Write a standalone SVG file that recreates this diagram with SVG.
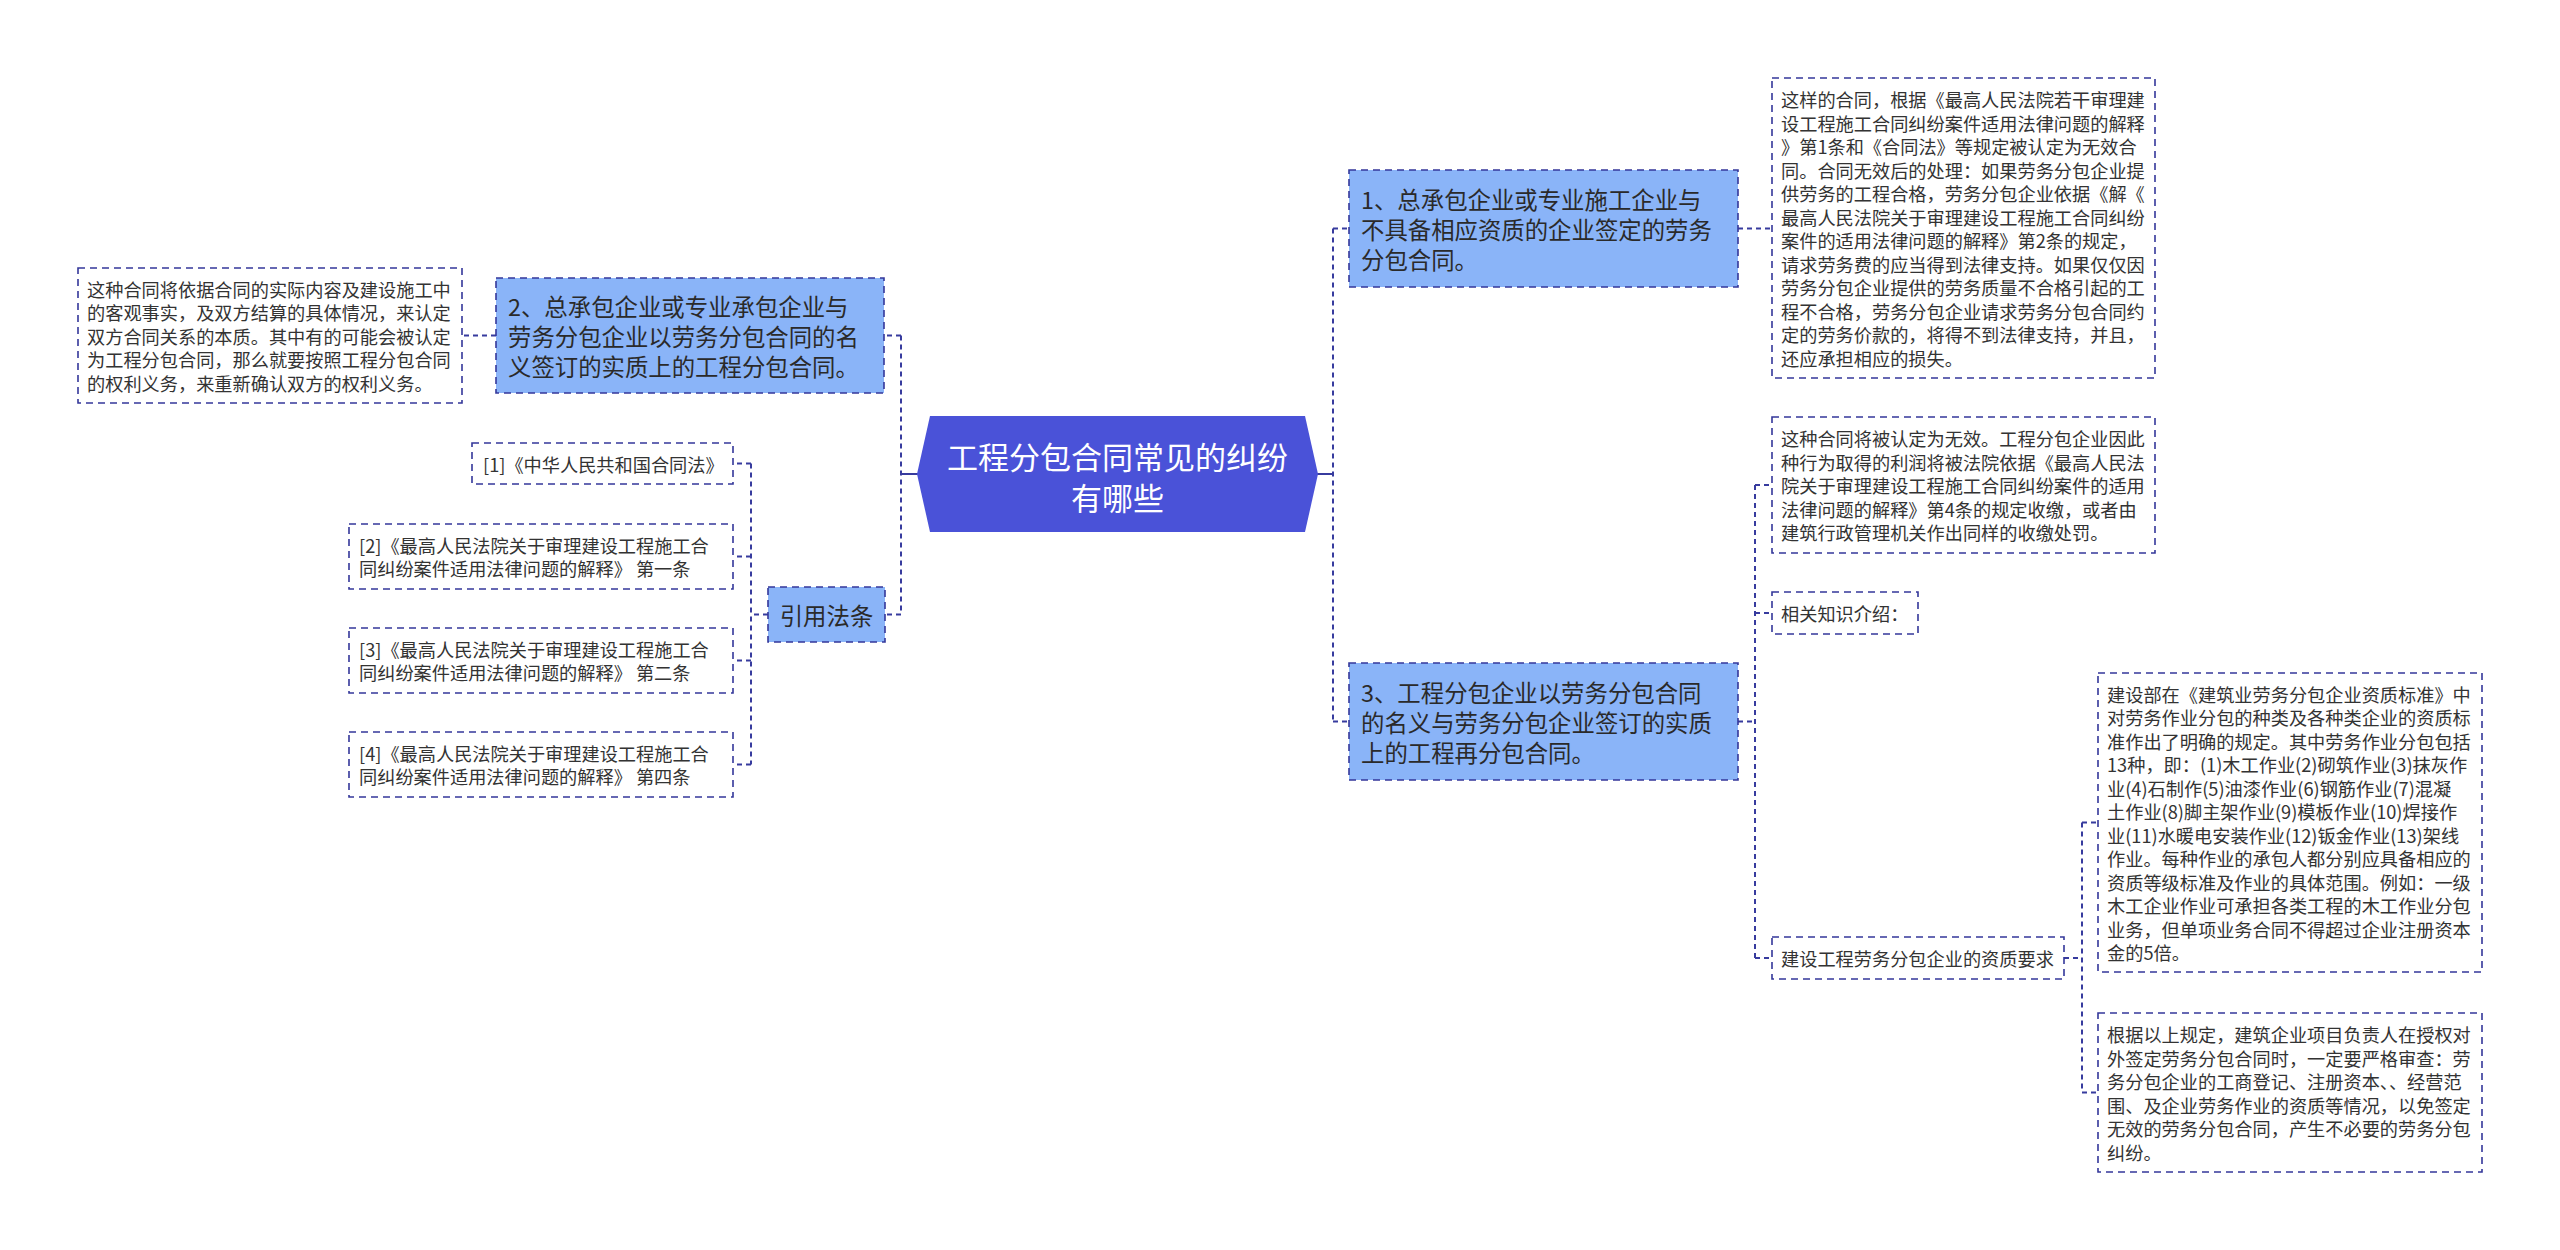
<svg xmlns="http://www.w3.org/2000/svg" width="2560" height="1250" viewBox="0 0 2560 1250">
<style>
.bg{fill:#ffffff}
.node rect{fill:#8ab4f8;stroke:#34379a;stroke-width:1.6;stroke-dasharray:7 5}
.box rect{fill:#ffffff;stroke:#34379a;stroke-width:1.6;stroke-dasharray:7 5}
.nt{font-family:"Noto Sans CJK SC","Noto Sans",sans-serif;font-size:23.4px;fill:#2a2a2a;dominant-baseline:central}
.dt{font-family:"Noto Sans CJK SC","Noto Sans",sans-serif;font-size:18.2px;fill:#333333;dominant-baseline:central}
.ct{font-family:"Noto Sans CJK SC","Noto Sans",sans-serif;font-size:31px;fill:#ffffff;dominant-baseline:central;text-anchor:middle}
#connectors path{fill:none;stroke:#373b9e;stroke-width:2;stroke-dasharray:5 4}
#connectors path.solid{stroke-dasharray:none}
</style>
<rect class="bg" x="0" y="0" width="2560" height="1250"/>

<g id="connectors">
  <path class="solid" d="M918 474 H901"/>
  <path d="M901 335.5 V614.5"/>
  <path d="M901 335.5 H884"/>
  <path d="M901 614.5 H885"/>
  <path d="M496 335.5 H462"/>
  <path d="M768 614.5 H751"/>
  <path d="M751 463.5 V764.5"/>
  <path d="M751 463.5 H733"/>
  <path d="M751 556.5 H733"/>
  <path d="M751 660.5 H733"/>
  <path d="M751 764.5 H733"/>
  <path class="solid" d="M1317 474 H1333"/>
  <path d="M1333 228.5 V721.5"/>
  <path d="M1333 228.5 H1349"/>
  <path d="M1333 721.5 H1349"/>
  <path d="M1738 228.5 H1772"/>
  <path d="M1738 721.5 H1755"/>
  <path d="M1755 485 V958"/>
  <path d="M1755 485 H1772"/>
  <path d="M1755 613 H1772"/>
  <path d="M1755 958 H1772"/>
  <path d="M2064 958 H2082"/>
  <path d="M2082 822.5 V1092.5"/>
  <path d="M2082 822.5 H2098"/>
  <path d="M2082 1092.5 H2098"/>
</g>

<g id="center">
  <polygon points="917,474 930,416 1305,416 1318,474 1305,532 930,532" fill="#4a52d8"/>
  <text class="ct" x="1117.5" y="455">工程分包合同常见的纠纷</text>
  <text class="ct" x="1117.5" y="496">有哪些</text>
</g>

<g id="node2" class="node">
  <rect x="496" y="278" width="388" height="115"/>
  <text class="nt" x="508" y="305.5">2、总承包企业或专业承包企业与</text>
  <text class="nt" x="508" y="335.5">劳务分包企业以劳务分包合同的名</text>
  <text class="nt" x="508" y="365.5">义签订的实质上的工程分包合同。</text>
</g>

<g id="detail-left" class="box">
  <rect x="78" y="268" width="384" height="135"/>
  <text class="dt" x="87" y="288.5">这种合同将依据合同的实际内容及建设施工中</text>
  <text class="dt" x="87" y="312">的客观事实，及双方结算的具体情况，来认定</text>
  <text class="dt" x="87" y="335.5">双方合同关系的本质。其中有的可能会被认定</text>
  <text class="dt" x="87" y="359">为工程分包合同，那么就要按照工程分包合同</text>
  <text class="dt" x="87" y="382.5">的权利义务，来重新确认双方的权利义务。</text>
</g>

<g id="node-ref" class="node">
  <rect x="768" y="587" width="117" height="55"/>
  <text class="nt" x="826.5" y="614.5" text-anchor="middle">引用法条</text>
</g>

<g id="ref1" class="box">
  <rect x="472" y="443" width="261" height="41"/>
  <text class="dt" x="483" y="463.5">[1]《中华人民共和国合同法》</text>
</g>
<g id="ref2" class="box">
  <rect x="349" y="524" width="384" height="65"/>
  <text class="dt" x="359" y="545">[2]《最高人民法院关于审理建设工程施工合</text>
  <text class="dt" x="359" y="568">同纠纷案件适用法律问题的解释》 第一条</text>
</g>
<g id="ref3" class="box">
  <rect x="349" y="628" width="384" height="65"/>
  <text class="dt" x="359" y="649">[3]《最高人民法院关于审理建设工程施工合</text>
  <text class="dt" x="359" y="672">同纠纷案件适用法律问题的解释》 第二条</text>
</g>
<g id="ref4" class="box">
  <rect x="349" y="732" width="384" height="65"/>
  <text class="dt" x="359" y="753">[4]《最高人民法院关于审理建设工程施工合</text>
  <text class="dt" x="359" y="776">同纠纷案件适用法律问题的解释》 第四条</text>
</g>

<g id="node1" class="node">
  <rect x="1349" y="170" width="389" height="117"/>
  <text class="nt" x="1361" y="198.5">1、总承包企业或专业施工企业与</text>
  <text class="nt" x="1361" y="228.5">不具备相应资质的企业签定的劳务</text>
  <text class="nt" x="1361" y="258.5">分包合同。</text>
</g>

<g id="detail1" class="box">
  <rect x="1772" y="78" width="383" height="300"/>
  <text class="dt" x="1781" y="99">这样的合同，根据《最高人民法院若干审理建</text>
  <text class="dt" x="1781" y="122.5">设工程施工合同纠纷案件适用法律问题的解释</text>
  <text class="dt" x="1781" y="146">》第1条和《合同法》等规定被认定为无效合</text>
  <text class="dt" x="1781" y="169.5">同。合同无效后的处理：如果劳务分包企业提</text>
  <text class="dt" x="1781" y="193">供劳务的工程合格，劳务分包企业依据《解《</text>
  <text class="dt" x="1781" y="216.5">最高人民法院关于审理建设工程施工合同纠纷</text>
  <text class="dt" x="1781" y="240">案件的适用法律问题的解释》第2条的规定，</text>
  <text class="dt" x="1781" y="263.5">请求劳务费的应当得到法律支持。如果仅仅因</text>
  <text class="dt" x="1781" y="287">劳务分包企业提供的劳务质量不合格引起的工</text>
  <text class="dt" x="1781" y="310.5">程不合格，劳务分包企业请求劳务分包合同约</text>
  <text class="dt" x="1781" y="334">定的劳务价款的，将得不到法律支持，并且，</text>
  <text class="dt" x="1781" y="357.5">还应承担相应的损失。</text>
</g>

<g id="node3" class="node">
  <rect x="1349" y="663" width="389" height="117"/>
  <text class="nt" x="1361" y="691.5">3、工程分包企业以劳务分包合同</text>
  <text class="nt" x="1361" y="721.5">的名义与劳务分包企业签订的实质</text>
  <text class="nt" x="1361" y="751.5">上的工程再分包合同。</text>
</g>

<g id="detail3a" class="box">
  <rect x="1772" y="417" width="383" height="136"/>
  <text class="dt" x="1781" y="438">这种合同将被认定为无效。工程分包企业因此</text>
  <text class="dt" x="1781" y="461.5">种行为取得的利润将被法院依据《最高人民法</text>
  <text class="dt" x="1781" y="485">院关于审理建设工程施工合同纠纷案件的适用</text>
  <text class="dt" x="1781" y="508.5">法律问题的解释》第4条的规定收缴，或者由</text>
  <text class="dt" x="1781" y="532">建筑行政管理机关作出同样的收缴处罚。</text>
</g>

<g id="detail3b" class="box">
  <rect x="1772" y="592" width="146" height="42"/>
  <text class="dt" x="1781" y="613">相关知识介绍：</text>
</g>

<g id="detail3c" class="box">
  <rect x="1772" y="937" width="292" height="42"/>
  <text class="dt" x="1781" y="958">建设工程劳务分包企业的资质要求</text>
</g>

<g id="detail3c1" class="box">
  <rect x="2098" y="673" width="384" height="299"/>
  <text class="dt" x="2107" y="693.5">建设部在《建筑业劳务分包企业资质标准》中</text>
  <text class="dt" x="2107" y="717">对劳务作业分包的种类及各种类企业的资质标</text>
  <text class="dt" x="2107" y="740.5">准作出了明确的规定。其中劳务作业分包包括</text>
  <text class="dt" x="2107" y="764">13种，即：(1)木工作业(2)砌筑作业(3)抹灰作</text>
  <text class="dt" x="2107" y="787.5">业(4)石制作(5)油漆作业(6)钢筋作业(7)混凝</text>
  <text class="dt" x="2107" y="811">土作业(8)脚主架作业(9)模板作业(10)焊接作</text>
  <text class="dt" x="2107" y="834.5">业(11)水暖电安装作业(12)钣金作业(13)架线</text>
  <text class="dt" x="2107" y="858">作业。每种作业的承包人都分别应具备相应的</text>
  <text class="dt" x="2107" y="881.5">资质等级标准及作业的具体范围。例如：一级</text>
  <text class="dt" x="2107" y="905">木工企业作业可承担各类工程的木工作业分包</text>
  <text class="dt" x="2107" y="928.5">业务，但单项业务合同不得超过企业注册资本</text>
  <text class="dt" x="2107" y="952">金的5倍。</text>
</g>

<g id="detail3c2" class="box">
  <rect x="2098" y="1013" width="384" height="159"/>
  <text class="dt" x="2107" y="1034">根据以上规定，建筑企业项目负责人在授权对</text>
  <text class="dt" x="2107" y="1057.5">外签定劳务分包合同时，一定要严格审查：劳</text>
  <text class="dt" x="2107" y="1081">务分包企业的工商登记、注册资本、、经营范</text>
  <text class="dt" x="2107" y="1104.5">围、及企业劳务作业的资质等情况，以免签定</text>
  <text class="dt" x="2107" y="1128">无效的劳务分包合同，产生不必要的劳务分包</text>
  <text class="dt" x="2107" y="1151.5">纠纷。</text>
</g>
</svg>
